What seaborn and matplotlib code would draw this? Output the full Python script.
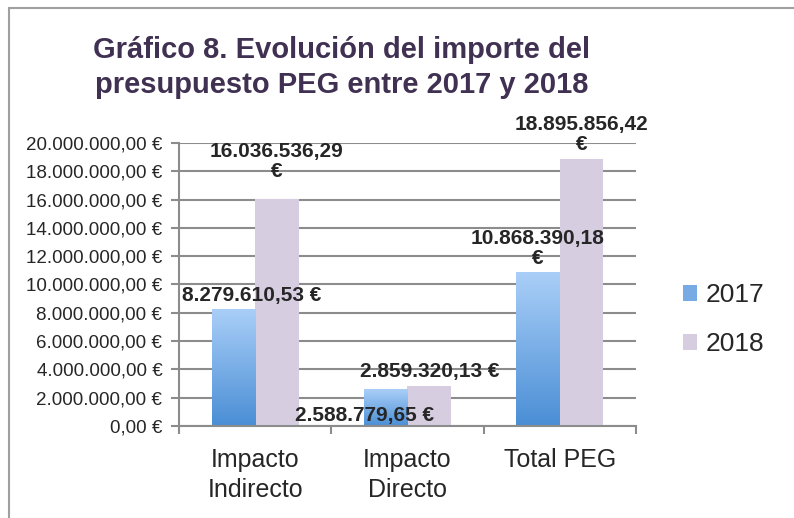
import numpy as np
import pandas as pd
import matplotlib
matplotlib.use("Agg")
import matplotlib.pyplot as plt
import seaborn as sns
from matplotlib.patches import Patch
from matplotlib.lines import Line2D
from matplotlib.colors import LinearSegmentedColormap

categorias = ["Impacto\nIndirecto", "Impacto\nDirecto", "Total PEG"]
anios = ["2017", "2018"]
importe_2017 = [8279610.53, 2588779.65, 10868390.18]
importe_2018 = [16036536.29, 2859320.13, 18895856.42]
yticks = np.arange(0, 20000001, 2000000)

def euros(v):
    s = f"{v:,.2f}".replace(",", "X").replace(".", ",").replace("X", ".")
    return s + " €"

df = pd.DataFrame({
    "categoria": categorias * 2,
    "anio": [anios[0]] * 3 + [anios[1]] * 3,
    "importe": importe_2017 + importe_2018,
})

sns.set_style("white")
plt.rcParams["font.family"] = ["Liberation Sans", "DejaVu Sans"]

azul_top, azul_bot = "#aacff8", "#4a8ed5"
lila = "#d6cde1"
gris = "#8c8c8c"

fig = plt.figure(figsize=(7.94, 5.18), dpi=100)
ax = fig.add_axes([0.2254, 0.1776, 0.5756, 0.5464])

sns.barplot(data=df, x="categoria", y="importe", hue="anio",
            palette=["#7fb0e8", lila], saturation=1, width=0.572,
            ax=ax, legend=False)

# gradiente en las barras de 2017
cmap = LinearSegmentedColormap.from_list("az", [azul_bot, azul_top])
grad = np.linspace(0, 1, 256).reshape(-1, 1)
for p in ax.containers[0]:
    x0, y0 = p.get_x(), p.get_y()
    w, h = p.get_width(), p.get_height()
    im = ax.imshow(grad, cmap=cmap, origin="lower", aspect="auto",
                   extent=[x0, x0 + w, y0, y0 + h], zorder=p.get_zorder())
    im.set_clip_path(p)
    p.set_facecolor("none")
    p.set_edgecolor("none")
for p in ax.containers[1]:
    p.set_edgecolor("none")

ax.set_xlim(-0.5, 2.5)
ax.set_ylim(0, 20000000)
ax.set_yticks(yticks)
ax.set_yticklabels([euros(v) for v in yticks], fontsize=13.5)
ax.yaxis.grid(True, color=gris, linewidth=1.5)
ax.set_axisbelow(True)
ax.set_xlabel("")
ax.set_ylabel("")

ax.set_xticks(range(3))
ax.set_xticklabels(categorias, fontsize=18, linespacing=1.3)
ax.set_xticks([-0.5, 0.5, 1.5, 2.5], minor=True)
ax.tick_params(axis="x", which="major", length=0, pad=16)
ax.tick_params(axis="x", which="minor", length=6, color=gris, width=1.5, direction="out", bottom=True)
ax.tick_params(axis="y", length=6, color=gris, width=1.5, direction="out", left=True, pad=6)
for s in ["top", "right"]:
    ax.spines[s].set_visible(False)
for s in ["left", "bottom"]:
    ax.spines[s].set_color(gris)
    ax.spines[s].set_linewidth(1.5)

# etiquetas de datos
offsets = [[(13, 3, "bottom"), (-15, -19, "center"), (0, 3, "bottom")],
           [(0, 13, "bottom"), (0, 3, "bottom"), (0, 3, "bottom")]]
partir = [[False, False, True], [True, False, True]]
for i, cont in enumerate(ax.containers):
    vals = [importe_2017, importe_2018][i]
    for j, p in enumerate(cont):
        txt = euros(vals[j])
        if partir[i][j]:
            txt = txt.replace(" €", "\n€")
        dx, dy, va = offsets[i][j]
        ax.annotate(txt, (p.get_x() + p.get_width() / 2, p.get_height()),
                    xytext=(dx, dy), textcoords="offset points",
                    ha="center", va=va, fontsize=15, fontweight="bold",
                    linespacing=1.1, zorder=5)

handles = [Patch(facecolor="#78aae4", edgecolor="none"),
           Patch(facecolor=lila, edgecolor="none")]
fig.legend(handles, anios, loc="center left", bbox_to_anchor=(0.83, 0.383),
           frameon=False, fontsize=19, handlelength=0.55, handleheight=0.55,
           handletextpad=0.3, labelspacing=0.95)

fig.suptitle("Gráfico 8. Evolución del importe del\npresupuesto PEG entre 2017 y 2018",
             x=0.43, y=0.93, ha="center", va="top", fontsize=21,
             fontweight="bold", color="#403152", linespacing=1.3)

# marco
fig.add_artist(Line2D([0.011, 0.011], [0, 0.985], color="#a0a0a0", lw=1.5, transform=fig.transFigure))
fig.add_artist(Line2D([0.011, 1], [0.985, 0.985], color="#a0a0a0", lw=1.5, transform=fig.transFigure))

fig.savefig("out.png", dpi=100)
